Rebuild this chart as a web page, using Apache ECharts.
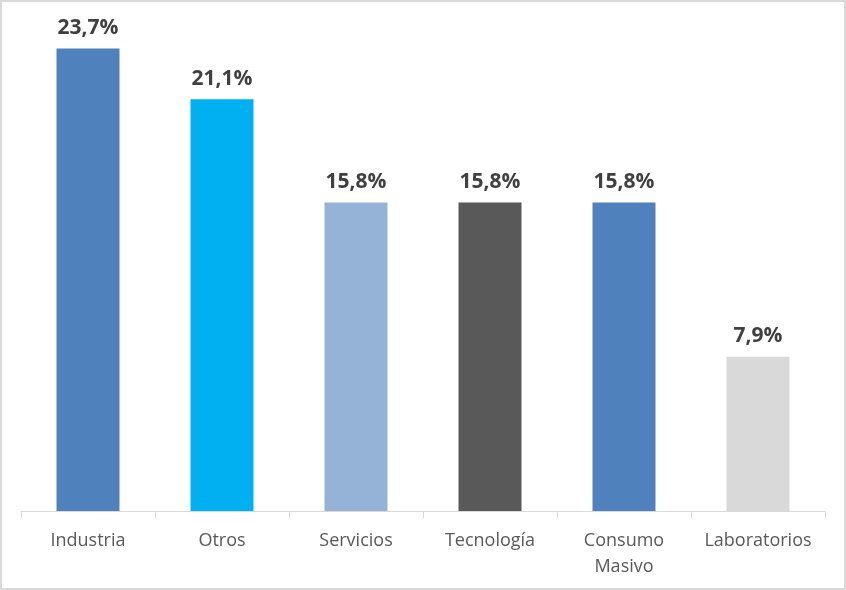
<!DOCTYPE html>
<html>
<head>
<meta charset="utf-8">
<script src="https://cdn.jsdelivr.net/npm/echarts@6/dist/echarts.min.js"></script>
<style>
  html, body { margin: 0; padding: 0; background: #ffffff; }
  #frame { position: absolute; left: 0; top: 0; width: 842px; height: 586px; border: 2px solid #d9d9d9; background: #fff; }
  #chart { position: absolute; left: -2px; top: -2px; width: 846px; height: 590px; }
</style>
</head>
<body>
<div id="frame"><div id="chart"></div></div>
<script>
// Sectores y participación (%)
const categories = ['Industria', 'Otros', 'Servicios', 'Tecnología', 'Consumo\nMasivo', 'Laboratorios'];
const values = [23.7, 21.1, 15.8, 15.8, 15.8, 7.9];
const barColors = ['#4f81bd', '#00b0f0', '#95b3d7', '#595959', '#4f81bd', '#d9d9d9'];

const chart = echarts.init(document.getElementById('chart'), null, { renderer: 'canvas' });

chart.setOption({
  animation: false,
  grid: { left: 21, right: 21, top: 23, bottom: 79 },
  xAxis: {
    type: 'category',
    data: categories,
    axisLine: { show: true, lineStyle: { color: '#d9d9d9', width: 1 } },
    axisTick: { show: true, alignWithLabel: false, length: 7, lineStyle: { color: '#d9d9d9' } },
    axisLabel: {
      color: '#595959',
      fontFamily: 'Open Sans',
      fontSize: 18,
      margin: 17,
      lineHeight: 26,
      interval: 0
    }
  },
  yAxis: {
    type: 'value',
    min: 0,
    max: 25,
    show: false,
    splitLine: { show: false }
  },
  series: [{
    type: 'bar',
    barWidth: '47%',
    data: values.map((v, i) => ({ value: v, itemStyle: { color: barColors[i] } })),
    label: {
      show: true,
      position: 'top',
      distance: 10,
      color: '#404040',
      fontFamily: 'Open Sans',
      fontWeight: 'bold',
      fontSize: 21,
      formatter: p => p.value.toFixed(1).replace('.', ',') + '%'
    }
  }]
});
</script>
</body>
</html>
